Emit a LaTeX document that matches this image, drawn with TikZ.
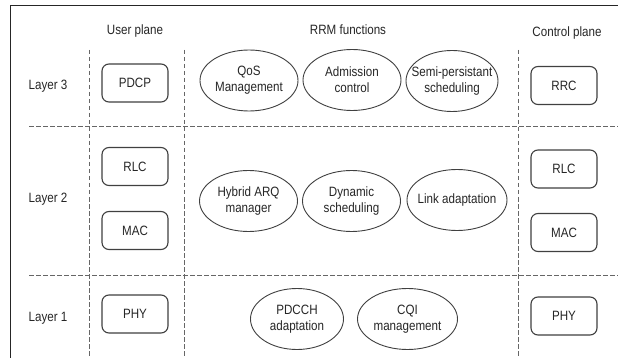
\documentclass[tikz,border=0pt]{standalone}
\usepackage{fontspec}
\setmainfont{Liberation Sans}[FakeStretch=0.86]
\usetikzlibrary{shapes}
\def\frameline{(10.5,358) -- (10.5,5.5) -- (618,5.5)}
\tikzset{
  block/.style={draw=black!75,line width=1.1pt,rounded corners=7pt,
    minimum width=66pt,minimum height=38pt,inner sep=0pt},
  func/.style={draw=black!75,line width=0.9pt,ellipse,minimum width=98pt,
    minimum height=61pt,inner xsep=-14pt,inner ysep=-8pt,align=center},
  sep/.style={black!60,line width=1pt,dash pattern=on 4.5pt off 2.5pt},
}
\begin{document}
\begin{tikzpicture}[x=1pt,y=-1pt,every node/.style={text=black!85,font=\fontsize{13.5}{16}\selectfont}]
  \useasboundingbox (0,0) rectangle (618,358);
  \fill[white] (0,0) rectangle (618,358);
  \draw[black!85,line width=1.4pt] \frameline;
  % separators
  \draw[sep] (89,50) -- (89,358);
  \draw[sep] (184,50) -- (184,358);
  \draw[sep] (518,50) -- (518,358);
  \draw[sep] (29,126.5) -- (618,126.5);
  \draw[sep] (29,275) -- (618,275);
  % headings
  \node (hup) at (135,31) {User plane};
  \node (hrrm) at (348,30) {RRM functions};
  \node (hcp) at (567,33) {Control plane};
  \node (l3) at (48,86) {Layer 3};
  \node (l2) at (48,199) {Layer 2};
  \node (l1) at (48,318) {Layer 1};
  % user plane
  \node[block] (pdcp) at (135,83) {PDCP};
  \node[block] (urlc) at (135,166.5) {RLC};
  \node[block] (umac) at (135,230.5) {MAC};
  \node[block] (uphy) at (135,314) {PHY};
  % control plane
  \node[block] (rrc) at (564,85.5) {RRC};
  \node[block] (crlc) at (564,169) {RLC};
  \node[block] (cmac) at (564,232.5) {MAC};
  \node[block] (cphy) at (564,316) {PHY};
  % RRM functions
  \node[func] (qos) at (249,80.5) {QoS\\Management};
  \node[func] (adm) at (352,80) {Admission\\control};
  \node[func,minimum width=92pt] (sps) at (452,81) {Semi-persistant\\scheduling};
  \node[func] (harq) at (248.5,201) {Hybrid ARQ\\manager};
  \node[func] (dyn) at (351.5,201) {Dynamic\\scheduling};
  \node[func,minimum width=100pt] (link) at (457,200) {Link adaptation};
  \node[func,minimum width=93pt] (pdcch) at (297,319) {PDCCH\\adaptation};
  \node[func,minimum width=100pt] (cqi) at (407.5,319) {CQI\\management};
\end{tikzpicture}
\end{document}
